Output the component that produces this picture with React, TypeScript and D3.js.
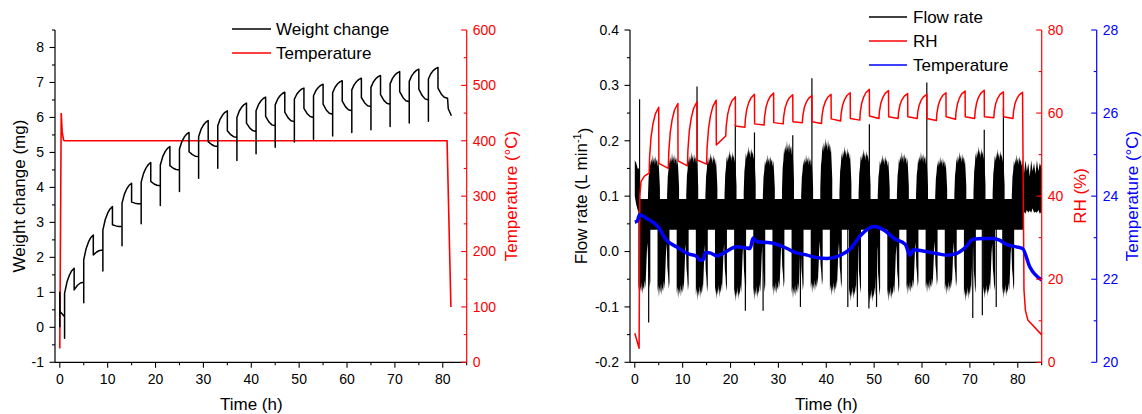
import React from 'react';
import * as d3 from 'd3';

const W = 1142, H = 414;
const FONT = "Arial, 'Liberation Sans', Helvetica, sans-serif";
const RED = '#ff0000', BLUE = '#0000ff';

// ---------- Left panel data ----------
const cycleStart = [1, 5, 9, 13, 17, 21, 25, 29, 33, 37, 41, 45, 49, 53, 57, 61, 65, 69, 73, 77];
const wInitial: [number, number][] = [[0, 0], [0, 1.0], [0.05, 0.45], [1, 0.3]];
const wDip = [-0.31, 0.70, 1.61, 2.33, 2.96, 3.48, 3.88, 4.26, 4.55, 4.77, 4.96, 5.15, 5.30, 5.38, 5.47, 5.57, 5.65, 5.74, 5.84, 5.89];
const wJump = [0.97, 1.93, 2.78, 3.55, 4.15, 4.64, 5.10, 5.45, 5.76, 6.00, 6.19, 6.36, 6.52, 6.62, 6.71, 6.79, 6.86, 6.96, 7.03, 7.10];
const wPeak = [1.69, 2.64, 3.45, 4.12, 4.71, 5.17, 5.57, 5.91, 6.19, 6.41, 6.58, 6.72, 6.84, 6.95, 7.05, 7.12, 7.20, 7.31, 7.38, 7.43];
const wDrop = [1.07, 2.07, 2.93, 3.58, 4.17, 4.62, 5.02, 5.31, 5.62, 5.84, 6.03, 6.15, 6.26, 6.38, 6.47, 6.57, 6.65, 6.74, 6.81, 6.84];
const wEnd = [1.29, 2.21, 2.88, 3.53, 4.05, 4.50, 4.88, 5.17, 5.43, 5.60, 5.76, 5.88, 6.00, 6.09, 6.19, 6.31, 6.38, 6.45, 6.50, 6.55];
const wTail: [number, number][] = [[81.15, 6.25], [81.8, 6.05]];
// shape of a rise / decay (hours from start, fraction of change)
const wRiseShape: [number, number][] = [[0.5, 0.45], [1, 0.72], [1.5, 0.9]];
const wDecayShape: [number, number][] = [[0.7, 0.6], [1.3, 0.9]];

const furnaceT = [0, 0.3, 0.5, 0.8, 1, 80.9, 81.7];
const furnaceV = [25, 450, 416, 401, 400, 400, 100];

// ---------- Right panel data ----------
const rhInitial: [number, number][] = [[0, 7.0], [0.5, 5.0], [0.9, 3.4], [1.05, 40], [1.3, 43.5], [2, 44.8], [2.9, 45.5]];
const rhRiseStart = [3, 7, 11, 15, 19, 23, 27, 31, 35, 39, 43, 47, 51, 55, 59, 63, 67, 71, 75, 79];
const rhLow = [45.5, 46.7, 47.3, 47.7, 54.5, 56.6, 57.1, 57.4, 57.7, 57.5, 58.1, 58.3, 58.7, 58.7, 58.7, 58.2, 58.5, 58.7, 58.9, 58.7];
const rhPeak = [61.4, 62.3, 62.7, 63.1, 63.9, 64.5, 64.8, 64.4, 64.2, 64.5, 64.9, 65.7, 65.4, 64.7, 64.5, 64.9, 65.3, 65.5, 65.1, 65.0];
const rhDrop = [47.9, 48.5, 48.7, 52.3, 56.9, 57.4, 57.7, 57.9, 57.9, 58.6, 58.7, 59.3, 59.1, 59.1, 58.7, 59.1, 59.1, 59.1, 59.1];
const rhTail: [number, number][] = [[81.3, 17.4], [81.6, 12.5], [82.1, 10.2], [85, 6.6]];
const rhRiseShape: [number, number][] = [[0.1, 0.25], [0.4, 0.55], [0.8, 0.75], [1.3, 0.9]];

const tempT = [0, 0.5, 1.0, 2.4, 4.8, 6.6, 8.7, 11.2, 12.9, 13.6, 14.3, 14.7, 15.5, 17.2, 19, 21.3, 23, 24.1, 24.7, 25.5, 28.3, 31.8, 33.2, 36.0, 38, 40.2, 43.0, 45.1, 47.2, 50.0, 52.1, 54.2, 56.5, 57.5, 58.2, 60.2, 63.0, 65.2, 67.2, 69.2, 70.6, 72.8, 74.8, 76.2, 77.6, 79.7, 81.0, 82.5, 85];
const tempV = [23.38, 23.40, 23.55, 23.47, 23.27, 22.94, 22.78, 22.61, 22.55, 22.46, 22.47, 22.64, 22.64, 22.56, 22.66, 22.78, 22.76, 22.74, 22.99, 22.90, 22.88, 22.74, 22.66, 22.58, 22.52, 22.50, 22.58, 22.74, 23.06, 23.27, 23.18, 22.98, 22.84, 22.58, 22.71, 22.68, 22.62, 22.58, 22.62, 22.78, 22.96, 22.98, 22.98, 22.94, 22.84, 22.78, 22.74, 22.30, 21.98];

// flow-rate envelope
const flowBand = [0.04, 0.095];
const flowLowerMin = [-0.08, -0.082, -0.085, -0.088, -0.086, -0.09, -0.088, -0.08, -0.085, -0.075, -0.08, -0.09, -0.095, -0.09, -0.078, -0.075, -0.078, -0.09, -0.085, -0.085];
const flowUpperMax = [0.175, 0.178, 0.18, 0.178, 0.183, 0.19, 0.175, 0.2, 0.175, 0.205, 0.19, 0.185, 0.175, 0.18, 0.18, 0.172, 0.18, 0.19, 0.185, 0.175];
// ragged edge of one oscillation block (fraction of block extent across its width)
const flowJag = [0.45, 0.7, 0.78, 0.92, 0.85, 0.95, 0.88, 1.0, 0.9, 0.96, 0.86, 0.98, 0.9, 0.94, 0.84, 0.92, 0.75, 0.55];
const flowStart: [number, number, number][] = [[0, 0.1, 0.165], [0.3, 0.085, 0.16], [0.6, 0.075, 0.15], [1, 0.07, 0.15]];
const flowEnd: [number, number, number][] = [[81, 0.07, 0.17], [81.3, 0.072, 0.14], [81.6, 0.068, 0.165], [81.9, 0.075, 0.145], [82.2, 0.07, 0.16], [82.5, 0.074, 0.135], [82.8, 0.07, 0.165], [83.1, 0.078, 0.145], [83.4, 0.07, 0.16], [83.7, 0.072, 0.14], [84.0, 0.07, 0.165], [84.3, 0.075, 0.145], [84.6, 0.068, 0.16], [85, 0.072, 0.15]];
const flowSpikes: [number, number][] = [
  [1.0, 0.275], [13.0, 0.298], [37.0, 0.313], [61.0, 0.305], [77.0, 0.26], [21.0, 0.23], [25.0, 0.215], [49.0, 0.23], [33.0, 0.21], [73.0, 0.22],
  [2.9, -0.128], [23.1, -0.107], [26.8, -0.107], [48.9, -0.103], [50.5, -0.1], [70.6, -0.12], [72.6, -0.115], [34.6, -0.1], [44.5, -0.1], [46.5, -0.1], [75.5, -0.1]
];

// ---------- ticks ----------
const xTicks = [0, 10, 20, 30, 40, 50, 60, 70, 80];
const wTicks = [-1, 0, 1, 2, 3, 4, 5, 6, 7, 8];
const fTTicks = [0, 100, 200, 300, 400, 500, 600];
const flowTicks = [-0.2, -0.1, 0.0, 0.1, 0.2, 0.3, 0.4];
const rhTicks = [0, 20, 40, 60, 80];
const tTicks = [20, 22, 24, 26, 28];

// ---------- geometry ----------
const PT = 30, PB = 362.3;
const xL = d3.scaleLinear().domain([-1, 85]).range([55, 466.7]);
const yW = d3.scaleLinear().domain([-1, 8.5]).range([PB, PT]);
const yFT = d3.scaleLinear().domain([0, 600]).range([PB, PT]);
const xR = d3.scaleLinear().domain([-1, 85]).range([630, 1041.7]);
const yF = d3.scaleLinear().domain([-0.2, 0.4]).range([PB, PT]);
const yRH = d3.scaleLinear().domain([0, 80]).range([PB, PT]);
const yT = d3.scaleLinear().domain([20, 28]).range([PB, PT]);

function weightPoints(): [number, number][] {
  const pts: [number, number][] = [...wInitial];
  cycleStart.forEach((t0, k) => {
    pts.push([t0, wDip[k]], [t0, wJump[k]]);
    wRiseShape.forEach(([dt, f]) => pts.push([t0 + dt, wJump[k] + f * (wPeak[k] - wJump[k])]));
    pts.push([t0 + 2, wPeak[k]], [t0 + 2, wDrop[k]]);
    wDecayShape.forEach(([dt, f]) => pts.push([t0 + 2 + dt, wDrop[k] + f * (wEnd[k] - wDrop[k])]));
    pts.push([t0 + 4, wEnd[k]]);
  });
  pts.push(...wTail);
  return pts;
}

function rhPoints(): [number, number][] {
  const pts: [number, number][] = [...rhInitial];
  rhRiseStart.forEach((t0, k) => {
    pts.push([t0, rhLow[k]]);
    rhRiseShape.forEach(([dt, f]) => pts.push([t0 + dt, rhLow[k] + f * (rhPeak[k] - rhLow[k])]));
    pts.push([t0 + 2, rhPeak[k]]);
    if (k < rhDrop.length) {
      pts.push([t0 + 2.03, rhDrop[k]]);
    }
  });
  pts.push(...rhTail);
  return pts;
}

function YAxis({ x, scale, major, minor, color, side, fmt }: any) {
  const [r0, r1] = scale.range();
  const len = 5.5, mlen = 3;
  return (
    <g>
      <line x1={x} x2={x} y1={r0} y2={r1} stroke={color} strokeWidth={1.2} />
      {minor.map((v: number, i: number) => (
        <line key={'m' + i} x1={x} x2={x - mlen} y1={scale(v)} y2={scale(v)} stroke={color} strokeWidth={1.1} />
      ))}
      {major.map((v: number, i: number) => (
        <g key={'M' + i}>
          <line x1={x} x2={x - len} y1={scale(v)} y2={scale(v)} stroke={color} strokeWidth={1.1} />
          <text x={side === 'left' ? x - 11 : x + 6} y={scale(v)} dy="0.35em" textAnchor={side === 'left' ? 'end' : 'start'}
            fontSize={14} fill={color} fontFamily={FONT}>{fmt(v)}</text>
        </g>
      ))}
    </g>
  );
}

function XAxis({ scale, y }: any) {
  const [r0, r1] = scale.range();
  const minor = [5, 15, 25, 35, 45, 55, 65, 75, 85];
  return (
    <g>
      <line x1={r0} x2={r1} y1={y} y2={y} stroke="#000" strokeWidth={1.2} />
      {minor.map((v, i) => <line key={'m' + i} x1={scale(v)} x2={scale(v)} y1={y} y2={y + 3} stroke="#000" strokeWidth={1.1} />)}
      {xTicks.map((v, i) => (
        <g key={i}>
          <line x1={scale(v)} x2={scale(v)} y1={y} y2={y + 5.5} stroke="#000" strokeWidth={1.1} />
          <text x={scale(v)} y={379.5} dy="0.35em" textAnchor="middle" fontSize={14} fontFamily={FONT}>{v}</text>
        </g>
      ))}
    </g>
  );
}

function VTitle({ x, y, color, children }: any) {
  return (
    <text transform={`translate(${x},${y}) rotate(-90)`} dy="0.35em" textAnchor="middle" fontSize={17} fill={color} fontFamily={FONT}>{children}</text>
  );
}

const fmtInt = (v: number) => String(v);
const fmt1 = (v: number) => v.toFixed(1);

export default function App() {
  const lineW = d3.line<[number, number]>().x(d => xL(d[0])).y(d => yW(d[1]));
  const lineFT = d3.line<number>().x((d, i) => xL(furnaceT[i])).y(d => yFT(d));
  const lineRH = d3.line<[number, number]>().x(d => xR(d[0])).y(d => yRH(d[1]));
  const lineT = d3.line<number>().x((d, i) => xR(tempT[i])).y(d => yT(d)).curve(d3.curveMonotoneX);

  const area3 = d3.area<[number, number, number]>().x(d => xR(d[0])).y0(d => yF(d[1])).y1(d => yF(d[2]));

  const n = flowJag.length;
  const blocks: string[] = [];
  cycleStart.forEach((t0, k) => {
    // lower block (RH plateau phase)
    const lo: [number, number, number][] = flowJag.map((f, i) => {
      const t = t0 - 0.25 + (i / (n - 1)) * 2.5;
      const jf = flowJag[(i + 5) % n];
      return [t, flowBand[1] - jf * (flowBand[1] - flowLowerMin[k]), flowBand[1]];
    });
    blocks.push(area3(lo) as string);
    // upper block (RH rising phase)
    const up: [number, number, number][] = flowJag.map((f, i) => {
      const t = t0 + 1.75 + (i / (n - 1)) * 2.5;
      return [t, flowBand[0], flowBand[0] + f * (flowUpperMax[k] - flowBand[0])];
    });
    blocks.push(area3(up) as string);
  });

  const bandPath = area3([[1, flowBand[0], flowBand[1]], [81, flowBand[0], flowBand[1]]]) as string;

  return (
    <svg width={W} height={H} style={{ display: 'block', position: 'absolute', left: 0, top: 0 }}>
      <rect width={W} height={H} fill="#fff" />
      {/* ===== Left panel ===== */}
      <path d={lineFT(furnaceV) as string} fill="none" stroke={RED} strokeWidth={1.6} />
      <path d={lineW(weightPoints()) as string} fill="none" stroke="#000" strokeWidth={1.5} strokeLinejoin="round" />
      <XAxis scale={xL} y={PB} />
      <YAxis x={55} scale={yW} major={wTicks} minor={[-0.5, 0.5, 1.5, 2.5, 3.5, 4.5, 5.5, 6.5, 7.5, 8.5]} color="#000" side="left" fmt={fmtInt} />
      <YAxis x={466.7} scale={yFT} major={fTTicks} minor={[50, 150, 250, 350, 450, 550]} color={RED} side="right" fmt={fmtInt} />
      <VTitle x={19} y={196} color="#000">Weight change (mg)</VTitle>
      <VTitle x={511} y={196} color={RED}>Temperature (°C)</VTitle>
      <text x={xL(40)} y={404} dy="0.35em" textAnchor="middle" fontSize={17} fontFamily={FONT}>Time (h)</text>
      <line x1={232} x2={271} y1={29} y2={29} stroke="#000" strokeWidth={1.5} />
      <text x={276} y={29} dy="0.35em" fontSize={17} fontFamily={FONT}>Weight change</text>
      <line x1={232} x2={271} y1={53} y2={53} stroke={RED} strokeWidth={1.5} />
      <text x={276} y={53} dy="0.35em" fontSize={17} fontFamily={FONT}>Temperature</text>

      {/* ===== Right panel ===== */}
      <g fill="#000">
        <path d={bandPath} />
        <path d={area3(flowStart) as string} />
        <path d={area3(flowEnd) as string} />
        {blocks.map((d, i) => <path key={i} d={d} />)}
      </g>
      {flowSpikes.map(([t, v], i) => (
        <line key={i} x1={xR(t)} x2={xR(t)} y1={yF(0.07)} y2={yF(v)} stroke="#000" strokeWidth={1.2} />
      ))}
      <path d={lineRH(rhPoints()) as string} fill="none" stroke={RED} strokeWidth={1.5} strokeLinejoin="round" />
      <path d={lineT(tempV) as string} fill="none" stroke={BLUE} strokeWidth={3.5} />
      <XAxis scale={xR} y={PB} />
      <YAxis x={630} scale={yF} major={flowTicks} minor={[-0.15, -0.05, 0.05, 0.15, 0.25, 0.35]} color="#000" side="left" fmt={fmt1} />
      <YAxis x={1041.7} scale={yRH} major={rhTicks} minor={[10, 30, 50, 70]} color={RED} side="right" fmt={fmtInt} />
      <YAxis x={1096.7} scale={yT} major={tTicks} minor={[21, 23, 25, 27]} color={BLUE} side="right" fmt={fmtInt} />
      <VTitle x={581} y={196} color="#000">Flow rate (L min<tspan dy="-0.55em" fontSize={11}>-1</tspan><tspan dy="0.55em">)</tspan></VTitle>
      <VTitle x={1080.5} y={196} color={RED}>RH (%)</VTitle>
      <VTitle x={1132} y={196} color={BLUE}>Temperature (°C)</VTitle>
      <text x={xR(40)} y={404} dy="0.35em" textAnchor="middle" fontSize={17} fontFamily={FONT}>Time (h)</text>
      <line x1={869} x2={907} y1={17} y2={17} stroke="#000" strokeWidth={1.5} />
      <text x={913} y={17} dy="0.35em" fontSize={17} fontFamily={FONT}>Flow rate</text>
      <line x1={869} x2={907} y1={41} y2={41} stroke={RED} strokeWidth={1.5} />
      <text x={913} y={41} dy="0.35em" fontSize={17} fontFamily={FONT}>RH</text>
      <line x1={869} x2={907} y1={65} y2={65} stroke={BLUE} strokeWidth={1.5} />
      <text x={913} y={65} dy="0.35em" fontSize={17} fontFamily={FONT}>Temperature</text>
    </svg>
  );
}
